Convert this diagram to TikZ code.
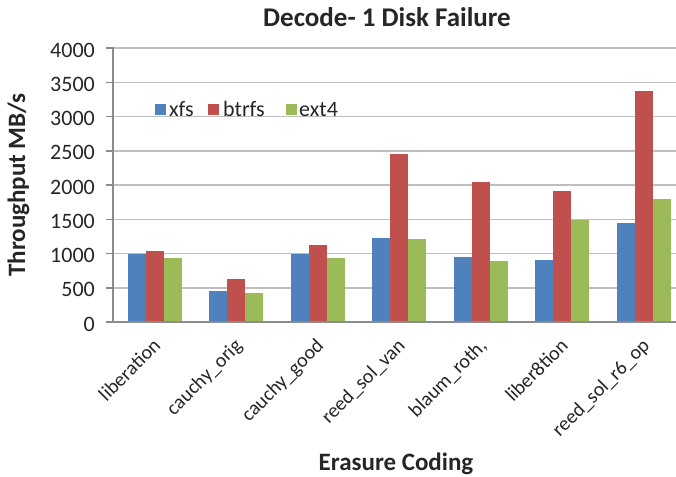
\documentclass[tikz,border=0pt]{standalone}
\usepackage{fontspec}
\setmainfont{Carlito}
\definecolor{xfsc}{HTML}{4F81BD}
\definecolor{btrfsc}{HTML}{C0504D}
\definecolor{ext4c}{HTML}{9BBB59}
\definecolor{gridgray}{HTML}{BEBEBE}
\definecolor{axisgray}{HTML}{8C8C8C}
\definecolor{txt}{HTML}{262626}
\begin{document}
\begin{tikzpicture}[x=1pt,y=-1pt,
  gridline/.style={draw=gridgray, line width=1.5pt},
  axisline/.style={draw=axisgray, line width=1.5pt},
  ticklabel/.style={anchor=east, inner sep=0pt, text=txt, font=\fontsize{22}{24}\selectfont},
  catlabel/.style={anchor=north east, inner sep=0pt, rotate=45, text=txt, font=\fontsize{20}{22}\selectfont},
  legtext/.style={anchor=base west, inner sep=0pt, text=txt, font=\fontsize{22}{24}\selectfont},
  titletext/.style={inner sep=0pt, text=txt, font=\fontsize{27}{30}\bfseries\selectfont},
  axistitle/.style={inner sep=0pt, text=txt, font=\fontsize{25}{28}\bfseries\selectfont}
]
\fill[white] (0,0) rectangle (676,476);
\useasboundingbox (0,0) rectangle (676,476);
\begin{scope}
\clip (0,0) rectangle (676,476);
% grid lines and tick labels
\foreach \v in {500,1000,...,4000} {
  \draw[gridline] (113,{322-0.0685*\v}) -- (676,{322-0.0685*\v});
}
\foreach \v in {0,500,...,4000} {
  \draw[axisline] (106,{322-0.0685*\v}) -- (113,{322-0.0685*\v});
  \node[ticklabel] (tick\v) at (95,{324-0.0685*\v}) {\v};
}
% bars
\foreach \i/\a/\b/\c/\lab in {
  0/1000/1040/940/liberation,
  1/450/630/430/cauchy\_orig,
  2/1000/1130/940/cauchy\_good,
  3/1230/2450/1210/reed\_sol\_van,
  4/950/2040/890/{blaum\_roth,},
  5/910/1910/1490/liber8tion,
  6/1450/3370/1800/reed\_sol\_r6\_op} {
  \pgfmathsetmacro{\L}{113+81.5*\i}
  \fill[xfsc] (\L+14.5,322) rectangle (\L+32.5,{322-0.0685*\a});
  \fill[btrfsc] (\L+32.5,322) rectangle (\L+50.5,{322-0.0685*\b});
  \fill[ext4c] (\L+50.5,322) rectangle (\L+68.5,{322-0.0685*\c});
  \node[catlabel] (cat\i) at (\L+38.75,337) {\lab};
}
% axes
\draw[axisline] (113,47) -- (113,322);
\draw[axisline] (106,322) -- (676,322);
\end{scope}
% legend
\fill[xfsc] (155,104) rectangle (166,115);
\node[legtext] (lxfs) at (169,116) {xfs};
\fill[btrfsc] (208,104) rectangle (219,115);
\node[legtext] (lbtrfs) at (223,116) {btrfs};
\fill[ext4c] (286,104) rectangle (297,115);
\node[legtext] (lext4) at (299,116) {ext4};
% titles
\node[titletext, anchor=base] (title) at (387,27) {Decode- 1 Disk Failure};
\node[axistitle, anchor=base, rotate=90] (ytitle) at (25,185) {Throughput MB/s};
\node[axistitle, anchor=base] (xtitle) at (396,470) {Erasure Coding};
\end{tikzpicture}
\end{document}
